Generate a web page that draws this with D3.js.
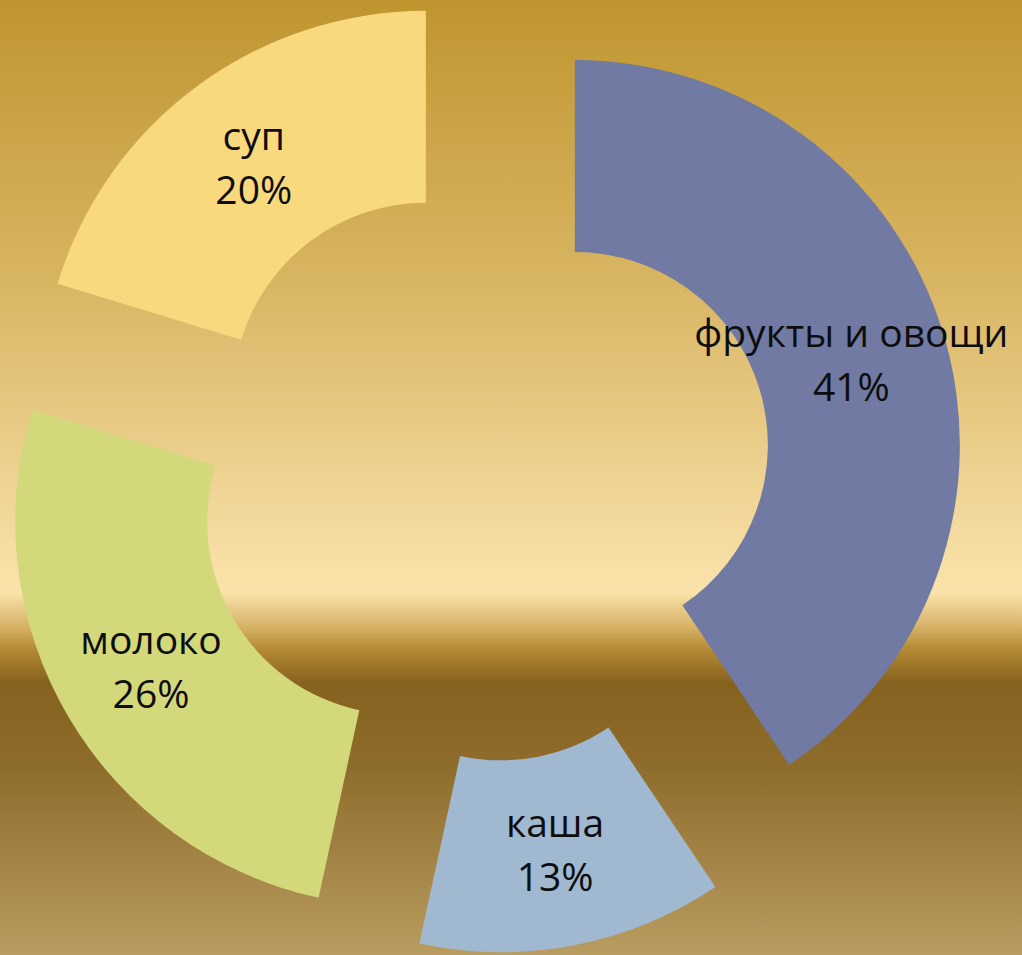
<!DOCTYPE html>
<html>
<head>
	<meta charset="UTF-8" />
	<title>donut</title>
	<script src="https://d3js.org/d3.v7.min.js"></script>
	<style>
		body { margin: 0; overflow: hidden; }
	</style>
</head>
<body>
	<svg id="chart" width="1022" height="955"></svg>

	<script type="text/javascript">
	// data
	var categories = ["фрукты и овощи", "каша", "молоко", "суп"]
	var values = [40.6, 12.8, 26.3, 20.3]
	var percentLabels = ["41%", "13%", "26%", "20%"]
	var colors = ["#717aa2", "#a0b8d0", "#d3d87b", "#f9d97e"]

	var width = 1022, height = 955
	var cx = 483, cy = 473
	var outerR = 385, innerR = 193
	var explode = 96

	var svg = d3.select("#chart")

	// background gradient
	var grad = svg.append("defs").append("linearGradient")
		.attr("id", "bg").attr("x1", 0).attr("y1", 0).attr("x2", 0).attr("y2", 1)
	var stops = [
		[0, "#bf952f"], [0.30, "#d9b664"], [0.55, "#f3d99d"], [0.62, "#fae3aa"],
		[0.655, "#d8b46a"], [0.68, "#b48a35"], [0.715, "#87621f"], [0.80, "#8e6c2b"],
		[1, "#b99c60"]
	]
	grad.selectAll("stop").data(stops).enter().append("stop")
		.attr("offset", d => d[0]).attr("stop-color", d => d[1])
	svg.append("rect").attr("width", width).attr("height", height).attr("fill", "url(#bg)")

	var pie = d3.pie().sort(null).value(d => d)
	var arc = d3.arc().innerRadius(innerR).outerRadius(outerR)
	var arcs = pie(values)

	var slices = svg.append("g")
		.attr("transform", "translate(" + cx + "," + cy + ")")
		.selectAll("g")
		.data(arcs)
		.enter()
		.append("g")
		.attr("transform", d => {
			var a = (d.startAngle + d.endAngle) / 2
			return "translate(" + (Math.sin(a) * explode) + "," + (-Math.cos(a) * explode) + ")"
		})

	slices.append("path")
		.attr("d", arc)
		.attr("fill", (d, i) => colors[i])

	var labels = slices.append("text")
		.attr("transform", d => "translate(" + arc.centroid(d) + ")")
		.attr("text-anchor", "middle")
		.style("font-family", "'Open Sans', sans-serif")
		.style("font-size", "39px")
		.attr("fill", "#0d0d0d")

	labels.append("tspan").attr("x", 0).attr("y", -14)
		.text((d, i) => categories[i])
	labels.append("tspan").attr("x", 0).attr("y", 40)
		.text((d, i) => percentLabels[i])
	</script>
</body>
</html>
